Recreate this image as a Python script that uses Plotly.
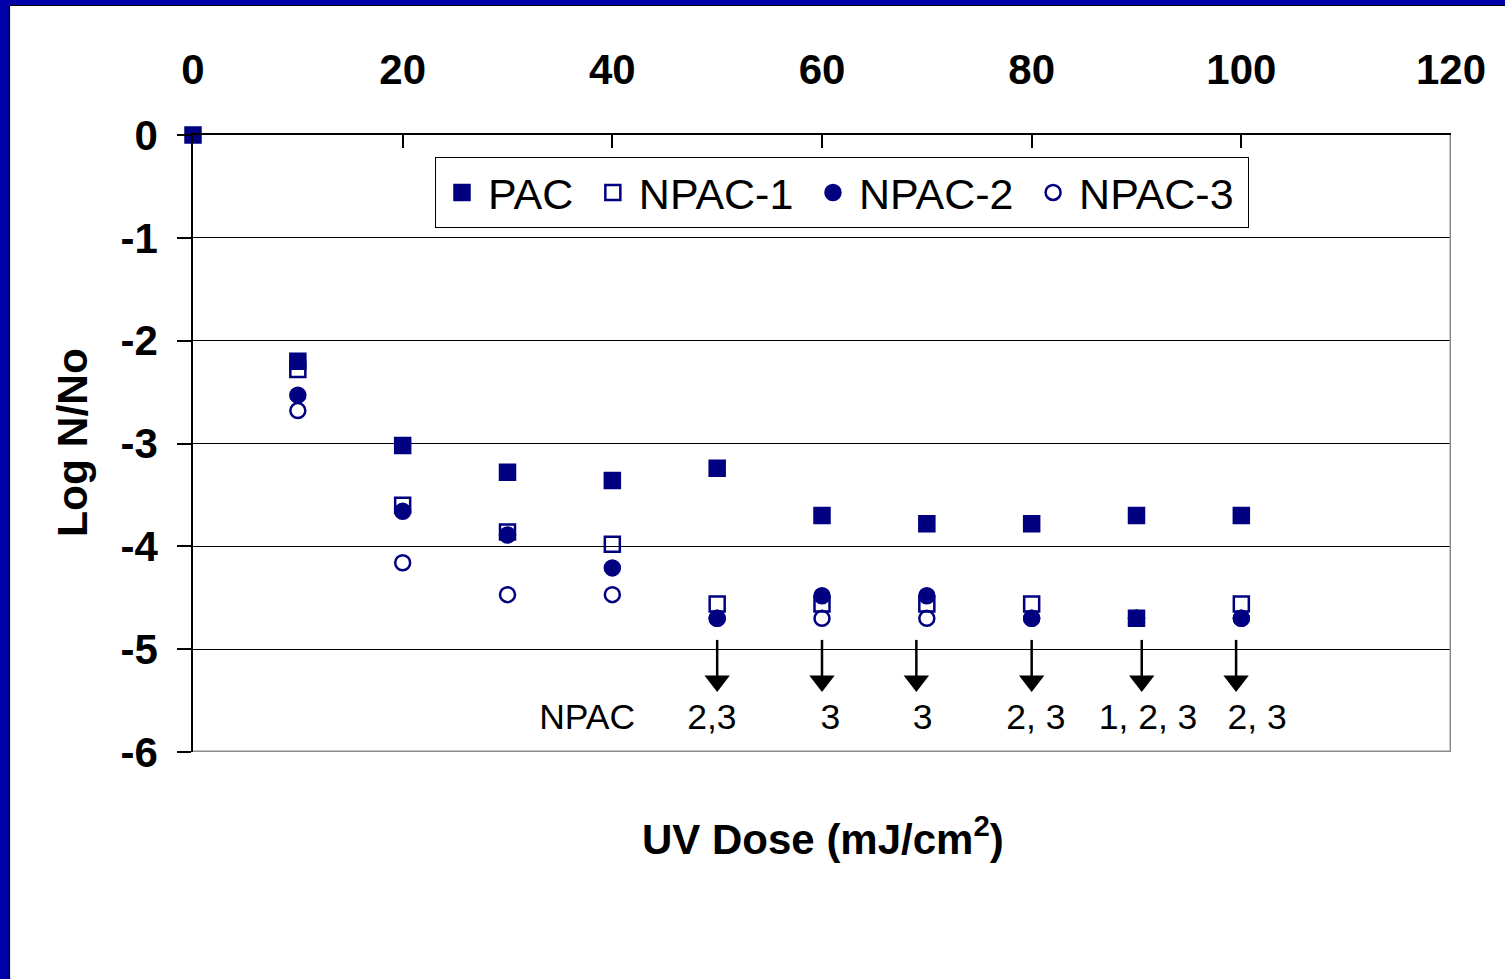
import plotly.graph_objects as go

# ---- data ----
uv_dose = [0, 10, 20, 30, 40, 50, 60, 70, 80, 90, 100]
pac    = [0, -2.20, -3.02, -3.28, -3.36, -3.24, -3.70, -3.78, -3.78, -3.70, -3.70]
npac1  = [None, -2.28, -3.60, -3.86, -3.98, -4.56, -4.56, -4.56, -4.56, -4.70, -4.56]
npac2  = [None, -2.53, -3.66, -3.89, -4.21, -4.70, -4.48, -4.48, -4.70, -4.70, -4.70]
npac3  = [None, -2.68, -4.16, -4.47, -4.47, -4.70, -4.70, -4.70, -4.70, -4.70, -4.70]

series_names = ["PAC", "NPAC-1", "NPAC-2", "NPAC-3"]

x_ticks = [0, 20, 40, 60, 80, 100, 120]
y_ticks = [0, -1, -2, -3, -4, -5, -6]
y_ticktext = ["0", "-1", "-2", "-3", "-4", "-5", "-6"]

# below-detection arrows and their labels
arrow_x = [50, 60, 69, 80, 90.5, 99.5]
arrow_top = -4.91
arrow_head = -5.31
label_x = [37.6, 49.5, 60.8, 69.6, 80.4, 91.1, 101.5]
label_text = ["NPAC", "2,3", "3", "3", "2, 3", "1, 2, 3", "2, 3"]
label_y = -5.69

NAVY = "#000080"
FONT = "Liberation Sans, Arial, sans-serif"

fig = go.Figure()

symbols = ["square", "square-open", "circle", "circle-open"]
for name, vals, sym in zip(series_names, [pac, npac1, npac2, npac3], symbols):
    fig.add_trace(go.Scatter(
        x=uv_dose, y=vals, mode="markers", name=name + "\u2009", cliponaxis=False,
        marker=dict(symbol=sym, size=15, color=NAVY, line=dict(color=NAVY, width=2.5)),
    ))

# arrows
ax, ay = [], []
for x in arrow_x:
    ax += [x, x, None]
    ay += [arrow_top, arrow_head, None]
fig.add_trace(go.Scatter(x=ax, y=ay, mode="lines", line=dict(color="black", width=2.5),
                         showlegend=False, hoverinfo="skip", cliponaxis=False))
fig.add_trace(go.Scatter(x=arrow_x, y=[arrow_head] * len(arrow_x), mode="markers",
                         marker=dict(symbol="triangle-down", size=22, color="black"),
                         showlegend=False, hoverinfo="skip", cliponaxis=False))
fig.add_trace(go.Scatter(x=label_x, y=[label_y] * len(label_x), mode="text", text=label_text,
                         textfont=dict(family=FONT, size=35.5, color="black"),
                         showlegend=False, hoverinfo="skip", cliponaxis=False))

W, H = 1505, 979
L, R, T, B = 193, 54, 135, 227
pw, ph = W - L - R, H - T - B

def px(x):
    return (x - L) / pw

def py(y):
    return (H - B - y) / ph

shapes = [
    # plot-area right/bottom gray frame
    dict(type="line", xref="x", yref="y", x0=120, x1=120, y0=-6, y1=0,
         line=dict(color="#8c8c8c", width=3)),
    dict(type="line", xref="x", yref="y", x0=0, x1=120, y0=-6, y1=-6,
         line=dict(color="#8c8c8c", width=3)),
    # blue slide border
    dict(type="rect", xref="paper", yref="paper", x0=px(0), x1=px(9), y0=py(H), y1=py(0),
         fillcolor="#0000A8", line=dict(width=0), layer="above"),
    dict(type="rect", xref="paper", yref="paper", x0=px(0), x1=px(W), y0=py(5), y1=py(0),
         fillcolor="#0000A8", line=dict(width=0), layer="above"),
    dict(type="line", xref="paper", yref="paper", x0=px(9.5), x1=px(9.5), y0=py(H), y1=py(5.5),
         line=dict(color="black", width=1.2), layer="above"),
    dict(type="line", xref="paper", yref="paper", x0=px(9.5), x1=px(W), y0=py(5.5), y1=py(5.5),
         line=dict(color="black", width=1.2), layer="above"),
]

annotations = [
    dict(text="UV Dose (mJ/cm<sup>2</sup>)", xref="paper", yref="paper",
         x=px(823), y=py(836), xanchor="center", yanchor="middle", showarrow=False,
         font=dict(family=FONT, size=42, color="black", weight="bold")),
    dict(text="Log N/No", xref="paper", yref="paper", textangle=-90,
         x=px(72), y=py(443), xanchor="center", yanchor="middle", showarrow=False,
         font=dict(family=FONT, size=42.5, color="black", weight="bold")),
]

fig.update_layout(
    width=W, height=H,
    margin=dict(l=L, r=R, t=T, b=B, autoexpand=False),
    paper_bgcolor="white", plot_bgcolor="white",
    font=dict(family=FONT, color="black"),
    showlegend=True,
    legend=dict(orientation="h", x=px(435), y=py(157), xanchor="left", yanchor="top",
                bgcolor="white", bordercolor="black", borderwidth=1,
                font=dict(family=FONT, size=43, color="black"),
                itemwidth=42, tracegroupgap=0),
    xaxis=dict(side="top", range=[0, 120], tickvals=x_ticks, ticks="inside", ticklen=13,
               tickwidth=1.5, tickcolor="black", showline=True, linecolor="black", linewidth=1.5,
               showgrid=False, zeroline=False, ticklabelstandoff=32,
               tickfont=dict(family=FONT, size=42, color="black", weight="bold")),
    yaxis=dict(range=[-6, 0], tickvals=y_ticks, ticktext=y_ticktext, ticks="outside", ticklen=14,
               tickwidth=1.5, tickcolor="black", showline=True, linecolor="black", linewidth=1.5,
               showgrid=True, gridcolor="black", gridwidth=1.3, zeroline=False,
               ticklabelstandoff=11,
               tickfont=dict(family=FONT, size=42, color="black", weight="bold")),
    shapes=shapes,
    annotations=annotations,
)

fig.write_html("out.html")
